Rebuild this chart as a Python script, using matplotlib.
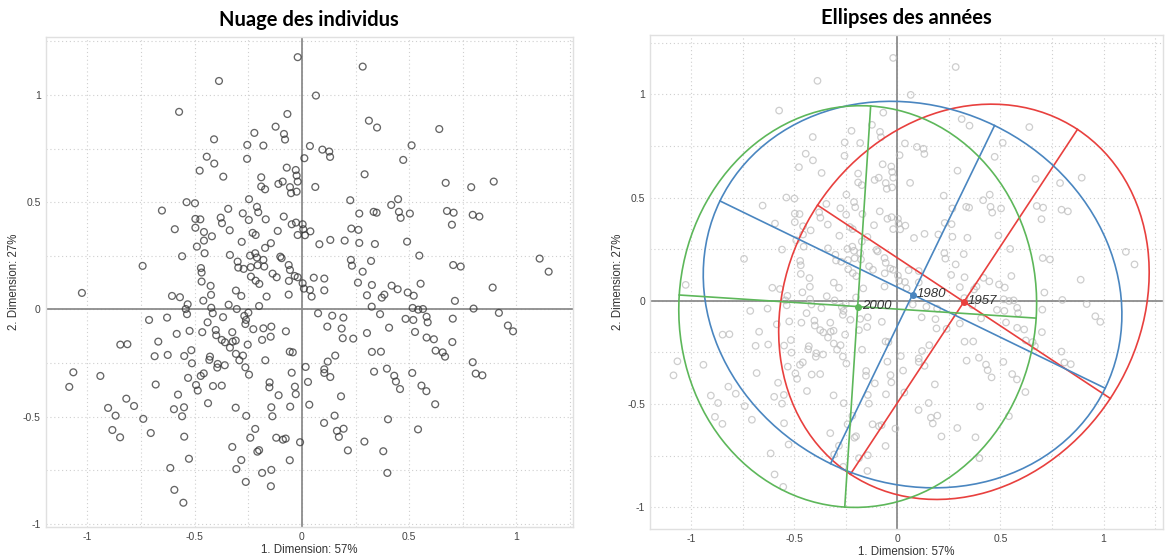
import numpy as np
import matplotlib
matplotlib.use("Agg")
import matplotlib.pyplot as plt
from matplotlib.patches import Ellipse

# coordonnées des individus sur les deux premières dimensions
dim1 = [
    -0.02, -0.387, -0.573, -0.068, -0.123, -0.084, -0.079, -0.222, -0.410, -0.255, -0.180, -0.444, -0.256, -0.409,
    -0.477, -0.071, -0.029, -0.025, -0.367, -0.190, -0.02, -0.09, -0.11, -0.19, -0.056, -0.172, -0.051, -0.025,
    -0.538, -0.499, -0.247, -0.653, -0.344, -0.210, -0.204, -0.276, -0.497, -0.474, -0.379, -0.373, -0.248, -0.169,
    -0.085, -0.028, -0.048, -0.593, -0.497, -0.337, -0.457, -0.230, -0.216, -0.113, -0.02, -0.420, -0.457, -0.281,
    -0.145, -0.490, -0.172, -0.454, -0.218, -0.336, -0.242, -0.559, -0.210, -0.101, -0.095, -0.180, -0.300, -0.207,
    -0.176, -0.297, -0.272, -0.239, -0.062, -0.743, -0.471, -0.468, -0.137, -0.056, -0.034, -0.238,
    0.283, 0.065, 0.312, 0.350, 0.640, 0.037, 0.095, 0.127, 0.131, 0.011, 0.511, 0.472, 0.292, 0.062, 0.670, 0.789,
    0.894, 0.225, 0.416, 0.448, 0.267, 0.334, 0.348, 0.452, 0.460, 0.503, 0.676, 0.707, 0.796, 0.827, 0.699, 0.003,
    0.006, 0.014, 0.039, 0.230, 0.263, 0.081, 0.132, 0.199, 0.267, 0.340, 0.490, 0.547, 0.228, 0.233, 0.322, 0.283,
    0.705, 0.740, 1.108, 1.150, 0.055, 0.104,
    -0.468, -0.118, -0.061, -0.02, -0.426, -0.308, -0.283, -0.424, -0.460, -0.606, -0.569, -1.026, -0.533, -0.542,
    -0.536, -0.423, -0.416, -0.342, -0.304, -0.250, -0.269, -0.200, -0.165, -0.062, -0.199, -0.216, -0.713, -0.629,
    -0.670, -0.584, -0.524, -0.465, -0.440, -0.402, -0.400, -0.368, -0.374, -0.359, -0.325, -0.323, -0.309, -0.336,
    -0.264, -0.261, -0.227, -0.180, -0.143, -0.075, -0.253, -0.186, -0.146, -0.847, -0.814, -0.687, -0.626, -0.549,
    -0.516, -0.513, -0.429, -0.432, -0.393, -0.395, -0.360, -0.308, -0.292, -0.275, -0.264, -0.247, -0.171, -0.057,
    -0.043, -0.048, -1.066, -1.085, -0.940, -0.682, -0.531, -0.472, -0.458, -0.494, -0.486, -0.415, -0.374, -0.578,
    -0.438, -0.151, -0.152, -0.109, -0.033, -0.029, -0.819, -0.783, -0.904, -0.869, -0.740, -0.597, -0.550, -0.559,
    -0.309, -0.260, -0.143, -0.138, -0.055, -0.884, -0.848, -0.705, -0.549, -0.218, -0.241, -0.120, -0.089, -0.076,
    -0.009, -0.325, -0.200, -0.208, -0.527, -0.283, -0.057, -0.614, -0.306, -0.186, -0.143, -0.262, -0.145, -0.595,
    -0.553,
    0.003, 0.009, 0.037, 0.045, 0.104, 0.261, 0.326, 0.303, 0.384, 0.372, 0.418, 0.446, 0.493, 0.521, 0.553, 0.889,
    0.713, 0.325, 0.516, 0.542, 0.564, 0.800, 0.918, 0.075, 0.141, 0.193, 0.364, 0.483, 0.519, 0.581, 0.586, 0.703,
    0.118, 0.185, 0.406, 0.303, 0.527, 0.190, 0.239, 0.581, 0.615, 0.701, 0.960, 0.984, 0.155, 0.326, 0.368, 0.623,
    0.656, 0.667, 0.796, 0.810, 0.841, 0.017, 0.120, 0.104, 0.104, 0.132, 0.336, 0.396, 0.430, 0.438, 0.457, 0.514,
    0.557, 0.580, 0.621, 0.028, 0.034, 0.182, 0.152, 0.103, 0.163, 0.194, 0.172, 0.401, 0.541, 0.291, 0.214, 0.379,
    0.398,
]
dim2 = [
    1.176, 1.065, 0.921, 0.911, 0.852, 0.818, 0.792, 0.823, 0.793, 0.767, 0.764, 0.712, 0.702, 0.680,
    0.647, 0.661, 0.650, 0.624, 0.619, 0.616, 0.596, 0.596, 0.585, 0.573, 0.570, 0.560, 0.542, 0.549,
    0.500, 0.495, 0.514, 0.461, 0.469, 0.478, 0.453, 0.448, 0.422, 0.420, 0.428, 0.402, 0.417, 0.420,
    0.433, 0.405, 0.397, 0.374, 0.381, 0.369, 0.361, 0.357, 0.347, 0.366, 0.347, 0.341, 0.321, 0.315,
    0.309, 0.293, 0.287, 0.262, 0.262, 0.254, 0.251, 0.248, 0.242, 0.246, 0.239, 0.231, 0.223, 0.206,
    0.200, 0.195, 0.189, 0.197, 0.207, 0.203, 0.193, 0.172, 0.167, 0.184, 0.156, 0.153,
    1.132, 0.997, 0.880, 0.848, 0.841, 0.762, 0.745, 0.736, 0.711, 0.705, 0.765, 0.697, 0.630, 0.571, 0.590, 0.570,
    0.596, 0.509, 0.487, 0.514, 0.447, 0.455, 0.451, 0.455, 0.427, 0.447, 0.459, 0.451, 0.441, 0.433, 0.395, 0.397,
    0.374, 0.346, 0.364, 0.377, 0.371, 0.304, 0.324, 0.321, 0.310, 0.305, 0.316, 0.251, 0.231, 0.204, 0.226, 0.176,
    0.207, 0.200, 0.237, 0.176, 0.148, 0.144,
    0.130, 0.150, 0.133, 0.150, 0.110, 0.088, 0.063, 0.068, 0.041, 0.063, 0.057, 0.077, 0.024, 0.002,
    -0.022, 0.008, -0.018, 0.022, 0.002, -0.015, -0.030, 0.016, 0.060, 0.069, 0.119, 0.134, -0.049, -0.038,
    -0.150, -0.114, -0.100, -0.106, -0.060, -0.096, -0.120, -0.036, -0.142, -0.153, -0.106, -0.150, -0.145, -0.178,
    -0.068, -0.049, -0.092, -0.088, -0.080, -0.102, -0.164, -0.142, -0.127, -0.164, -0.162, -0.218, -0.212, -0.217,
    -0.190, -0.251, -0.220, -0.235, -0.254, -0.271, -0.260, -0.207, -0.237, -0.215, -0.270, -0.304, -0.237, -0.197,
    -0.200, -0.295, -0.293, -0.361, -0.310, -0.350, -0.319, -0.310, -0.298, -0.352, -0.378, -0.357, -0.355, -0.397,
    -0.437, -0.340, -0.363, -0.400, -0.360, -0.395, -0.416, -0.450, -0.459, -0.495, -0.510, -0.465, -0.456, -0.498,
    -0.458, -0.496, -0.456, -0.498, -0.453, -0.562, -0.596, -0.576, -0.593, -0.557, -0.598, -0.598, -0.607, -0.602,
    -0.619, -0.641, -0.656, -0.663, -0.696, -0.702, -0.703, -0.739, -0.744, -0.762, -0.748, -0.804, -0.824, -0.841,
    -0.901,
    0.122, 0.097, 0.091, 0.060, 0.089, 0.125, 0.114, 0.066, 0.069, 0.055, 0.111, 0.094, 0.079, 0.064, 0.120, 0.102,
    0.040, 0.013, 0.007, -0.001, 0.002, 0.004, -0.016, -0.018, -0.029, -0.038, -0.022, -0.044, -0.049, -0.034, -0.060, -0.043,
    -0.080, -0.089, -0.085, -0.110, -0.105, -0.134, -0.136, -0.131, -0.139, -0.152, -0.075, -0.102, -0.215, -0.198, -0.197, -0.192,
    -0.200, -0.220, -0.246, -0.299, -0.307, -0.268, -0.243, -0.279, -0.296, -0.315, -0.290, -0.276, -0.309, -0.336, -0.371, -0.296,
    -0.355, -0.381, -0.442, -0.338, -0.444, -0.405, -0.495, -0.529, -0.566, -0.556, -0.594, -0.512, -0.559, -0.616, -0.657, -0.661,
    -0.762,
]

# ellipses de confiance par année
years = ["1957", "1980", "2000"]
year_colors = ["#E8403E", "#4A86C0", "#5DB75A"]
center_x = [0.323, 0.074, -0.192]
center_y = [-0.005, 0.030, -0.028]
semi_a = [1.000, 1.038, 0.973]
semi_b = [0.850, 0.910, 0.867]
angle_a = [56.6, -25.9, 86.3]

plt.rcParams["font.family"] = ["Liberation Sans", "DejaVu Sans"]

ticks = [-1, -0.5, 0, 0.5, 1]
tick_labels = ["-1", "-0.5", "0", "0.5", "1"]
grid = np.arange(-1.25, 1.5, 0.25)


def style_axes(ax, xlim, ylim):
    ax.set_xlim(*xlim)
    ax.set_ylim(*ylim)
    for g in grid:
        ax.axvline(g, color="#cfcfcf", lw=0.8, ls=(0, (1, 2.5)), zorder=0)
        ax.axhline(g, color="#cfcfcf", lw=0.8, ls=(0, (1, 2.5)), zorder=0)
    ax.axvline(0, color="#8c8c8c", lw=1.3, zorder=1)
    ax.axhline(0, color="#8c8c8c", lw=1.3, zorder=1)
    ax.set_xticks(ticks)
    ax.set_xticklabels(tick_labels)
    ax.set_yticks(ticks)
    ax.set_yticklabels(tick_labels)
    ax.tick_params(length=0, labelsize=7.5, colors="#444444", pad=3.5)
    for s in ax.spines.values():
        s.set_color("#e0e0e0")
        s.set_linewidth(1.0)
    ax.set_xlabel("1. Dimension: 57%", fontsize=8.3, color="#333333", labelpad=1.5)
    ax.set_ylabel("2. Dimension: 27%", fontsize=8.3, color="#333333", labelpad=2)


fig = plt.figure(figsize=(11.68, 5.58), dpi=100)
ax1 = fig.add_axes([0.0391, 0.0556, 0.4512, 0.8781])
ax2 = fig.add_axes([0.5565, 0.052, 0.4392, 0.8853])

# nuage des individus
style_axes(ax1, (-1.195, 1.262), (-1.014, 1.27))
ax1.scatter(dim1, dim2, s=24, facecolors="none", edgecolors="#333333",
            linewidths=0.95, alpha=0.75, zorder=3)
ax1.set_title("Nuage des individus", fontsize=14.5, fontweight="bold",
              family=["Lato", "DejaVu Sans"], pad=8)

# ellipses des années
style_axes(ax2, (-1.199, 1.288), (-1.105, 1.287))
ax2.scatter(dim1, dim2, s=22, facecolors="none", edgecolors="#bdbdbd",
            linewidths=0.9, alpha=0.75, zorder=2)
for yr, col, cx, cy, a, b, ang in zip(years, year_colors, center_x, center_y,
                                      semi_a, semi_b, angle_a):
    ax2.add_patch(Ellipse((cx, cy), 2 * a, 2 * b, angle=ang, fill=False,
                          edgecolor=col, lw=1.2, zorder=4))
    t = np.deg2rad(ang)
    u = np.array([np.cos(t), np.sin(t)])
    v = np.array([-np.sin(t), np.cos(t)])
    for half, d in ((a, u), (b, v)):
        ax2.plot([cx - half * d[0], cx + half * d[0]],
                 [cy - half * d[1], cy + half * d[1]],
                 color=col, lw=1.2, zorder=4)
    ax2.plot(cx, cy, "o", color=col, ms=4, zorder=5)
    ax2.text(cx + 0.02, cy + 0.005, yr, fontsize=9.5, style="italic",
             color="#333333", va="center", ha="left", zorder=6)
ax2.set_title("Ellipses des années", fontsize=14.5, fontweight="bold",
              family=["Lato", "DejaVu Sans"], pad=8)

fig.savefig("out.png", dpi=100)
